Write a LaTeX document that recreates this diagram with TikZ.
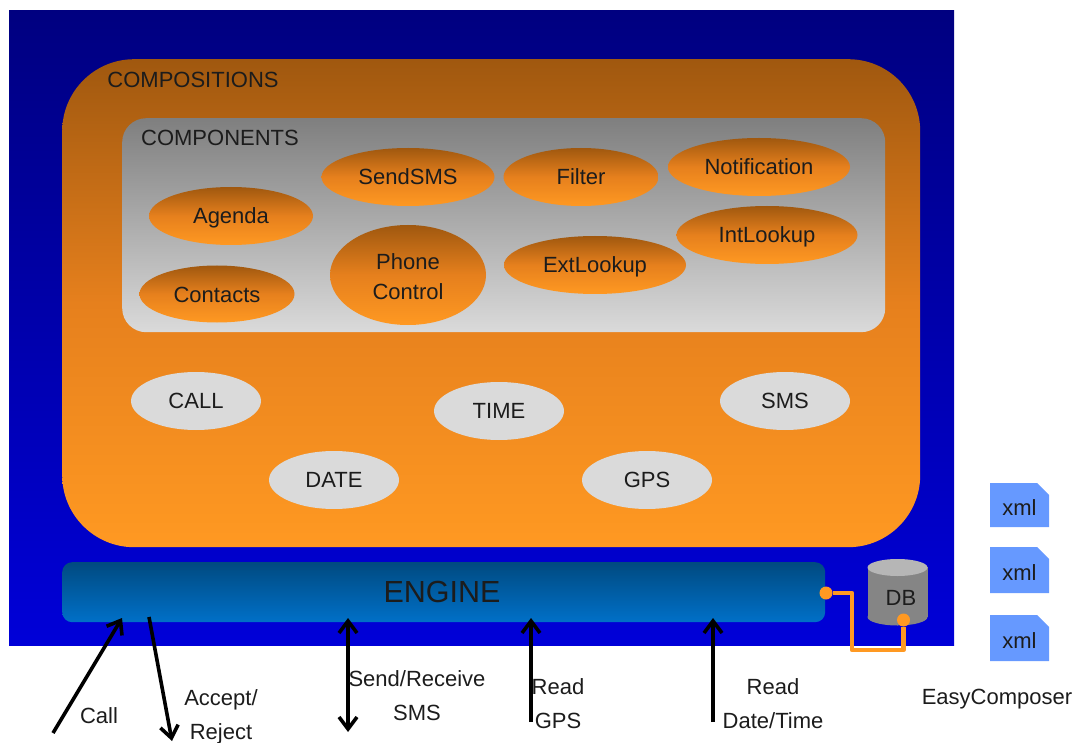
\documentclass[tikz,border=0pt]{standalone}
\usepackage{xcolor}
\usepackage{fontspec}
\setmainfont{Liberation Sans}
\usepackage{tikz}
\usetikzlibrary{shapes,shapes.geometric,shapes.misc,positioning,arrows.meta}
\definecolor{inkdark}{HTML}{1C1C1C}
\definecolor{blueTop}{HTML}{000080}
\definecolor{blueBot}{HTML}{0000D8}
\definecolor{orangeTop}{HTML}{A0580F}
\definecolor{orangeMid}{HTML}{E6801D}
\definecolor{orangeBot}{HTML}{FF9922}
\definecolor{greyTop}{HTML}{7F7F7F}
\definecolor{greyBot}{HTML}{DADADA}
\definecolor{dbBody}{HTML}{858585}
\definecolor{dbEnd}{HTML}{B6B6B6}
\definecolor{engTop}{HTML}{004A80}
\definecolor{engBot}{HTML}{0070C8}
\definecolor{xmlBlue}{HTML}{6699FF}
\tikzset{
    txt/.style={text=inkdark,font=\fontsize{22}{34}\selectfont,inner sep=0pt,align=center},
    panel/.style={rectangle,inner sep=0pt,anchor=north west},
    warm/.style={top color=orangeTop,bottom color=orangeBot,middle color=orangeMid},
    comp/.style={ellipse,txt,warm,text height=16pt,text depth=0pt},
    svc/.style={ellipse,txt,fill=greyBot,minimum width=130pt,minimum height=58pt},
    dbcap/.style={ellipse,inner sep=0pt,minimum width=60pt,minimum height=17pt},
    xmlfile/.style={chamfered rectangle,chamfered rectangle corners=north east,chamfered rectangle xsep=6pt,chamfered rectangle ysep=6pt,fill=xmlBlue,txt,text height=21pt,text depth=0pt,minimum width=59pt},
    conn/.style={draw=orangeBot,line width=4.5pt,line join=round},
    dot/.style={circle,fill=orangeBot,inner sep=0pt,minimum size=13pt},
    arr/.style={draw=black,line width=3.6pt,>={Straight Barb[length=12pt,width=18pt,line width=3.6pt]}}
}
\begin{document}
\begin{tikzpicture}[x=1pt,y=-1pt]
    \useasboundingbox (0,0) rectangle (1076,743);
    \path
        (9,10)    node [panel,minimum width=945pt,minimum height=635pt,top color=blueTop,bottom color=blueBot] (system) {}
        (62,59)   node [panel,minimum width=858pt,minimum height=488pt,rounded corners=72pt,warm] (compositions) {}
        (122,118) node [panel,minimum width=763pt,minimum height=214pt,rounded corners=24pt,top color=greyTop,bottom color=greyBot] (components) {}
        (62,562)  node [panel,minimum width=763pt,minimum height=60pt,rounded corners=10pt,top color=engTop,bottom color=engBot] (engine) {}
        ;
    \path
        (193,80)  node [txt] (compositionsLabel) {COMPOSITIONS}
        (220,138) node [txt] (componentsLabel) {COMPONENTS}
        (442,592) node [txt,font=\fontsize{30.5}{36}\selectfont] (engineLabel) {ENGINE}
        ;
    % components
    \path
        (231,216) node [comp,minimum width=164pt,minimum height=58pt] (agenda) {Agenda}
        (408,177) node [comp,minimum width=173pt,minimum height=58pt] (sendsms) {SendSMS}
        (581,177) node [comp,minimum width=155pt,minimum height=58pt] (filter) {Filter}
        (759,167) node [comp,minimum width=182pt,minimum height=58pt] (notification) {Notification}
        (767,235) node [comp,minimum width=181pt,minimum height=58pt] (intlookup) {IntLookup}
        (595,265) node [comp,minimum width=182pt,minimum height=58pt] (extlookup) {ExtLookup}
        (408,275) node [comp,text height=,text depth=,minimum width=156pt,minimum height=100pt,font=\fontsize{22}{30}\selectfont] (phone) {\rule{0pt}{20pt}Phone\\Control}
        (217,294) node [comp,minimum width=155pt,minimum height=57pt] (contacts) {Contacts}
        ;
    % services
    \path
        (196,401) node [svc] (call) {CALL}
        (499,411) node [svc] (time) {TIME}
        (785,401) node [svc] (sms) {SMS}
        (334,480) node [svc] (date) {DATE}
        (647,480) node [svc] (gps) {GPS}
        ;
    % database and its link
    \path
        (897.5,617) node [dbcap,fill=dbBody] (dbBottom) {}
        (897.5,592) node [rectangle,inner sep=0pt,fill=dbBody,minimum width=60pt,minimum height=50pt] (db) {}
        (897.5,567.5) node [dbcap,fill=dbEnd] (dbTop) {}
        (901,598) node [txt] (dbLabel) {DB}
        (826,593) node [dot] (engineDot) {}
        (903.5,620) node [dot] (dbDot) {}
        (852,650) coordinate (bendLeft)
        (903.5,650) coordinate (bendRight)
        ;
    \draw [conn] (engineDot) -| (bendLeft) -- (bendRight) -- (dbDot);
    % xml files
    \path
        (1019.5,505) node [xmlfile,minimum height=44pt] (xmlA) {xml}
        (1019.5,570) node [xmlfile,minimum height=46pt] (xmlB) {xml}
        (1019.5,638) node [xmlfile,minimum height=46pt] (xmlC) {xml}
        (997,699)    node [txt] (easy) {EasyComposer}
        ;
    % arrows
    \path
        (53,733)  coordinate (callOut)   (122,618) coordinate (callIn)
        (149,617) coordinate (rejectIn)  (172,741) coordinate (rejectOut)
        (348,618) coordinate (smsIn)     (348,732) coordinate (smsOut)
        (531,722) coordinate (gpsOut)    (531,618) coordinate (gpsIn)
        (713,722) coordinate (dateOut)   (713,618) coordinate (dateIn)
        ;
    \draw [->,arr] (callOut) -- (callIn);
    \draw [->,arr] (rejectIn) -- (rejectOut);
    \draw [<->,arr] (smsIn) -- (smsOut);
    \draw [->,arr] (gpsOut) -- (gpsIn);
    \draw [->,arr] (dateOut) -- (dateIn);
    \path
        (99,716)  node [txt] (callLabel) {Call}
        (221,717) node [txt] (rejectLabel) {Accept/\\Reject}
        (417,696) node [txt] (smsLabel) {Send/Receive\\SMS}
        (558,704) node [txt] (gpsLabel) {Read\\GPS}
        (773,704) node [txt] (dateLabel) {Read\\Date/Time}
        ;
\end{tikzpicture}
\end{document}
